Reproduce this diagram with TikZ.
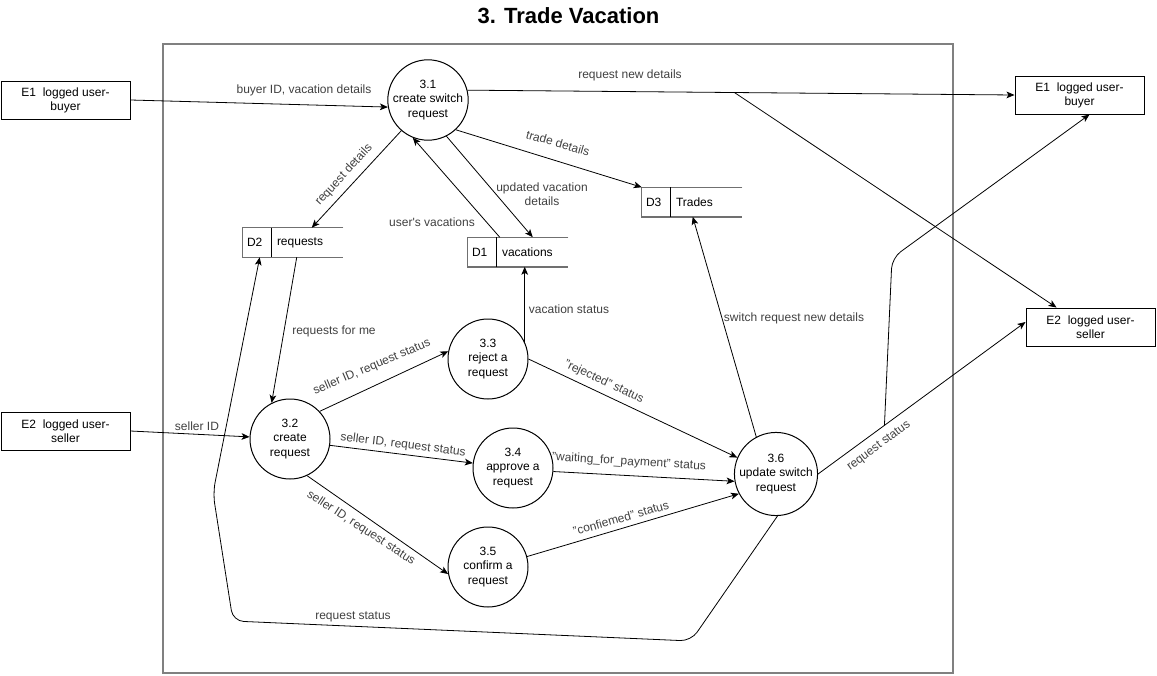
\documentclass[tikz,border=0pt]{standalone}
\usepackage{fontspec}
\setmainfont{Liberation Sans}
\usetikzlibrary{arrows.meta,calc}
\definecolor{framec}{HTML}{808080}
\definecolor{labelc}{HTML}{404040}
\definecolor{storec}{HTML}{707070}
\begin{document}
\begin{tikzpicture}[x=0.75pt,y=-0.75pt,
  proc/.style={circle,draw,line width=0.75pt,minimum size=60pt,inner sep=0pt,align=center,font=\fontsize{9}{10.8}\selectfont},
  ent/.style={rectangle,draw,line width=0.75pt,minimum width=96.75pt,minimum height=28.5pt,inner sep=0pt,align=center,font=\fontsize{9}{10.5}\selectfont},
  store/.style={rectangle,minimum width=75pt,minimum height=21.75pt,inner sep=0pt},
  storeline/.style={draw=storec,line width=1.1pt},
  storesep/.style={draw=black,line width=0.75pt},
  stext/.style={font=\fontsize{9}{10.5}\selectfont,inner sep=0pt,anchor=west},
  lbl/.style={font=\fontsize{9}{10.5}\selectfont,text=labelc,inner sep=1pt,align=center},
  flow/.style={draw,line width=0.6pt,-{Stealth[length=6pt,width=5pt,inset=1.5pt]}}
]
\path[use as bounding box] (0,0) rectangle (1157,675);
\node[font=\bfseries\fontsize{16.5}{20}\selectfont] (title) at (568.5,16) {3. Trade Vacation};
\draw[framec,line width=1.5pt] (163,44) rectangle (953,673);

% processes
\node[proc] (p31) at (428,100) {3.1\\create switch\\request};
\node[proc] (p32) at (290,439) {3.2\\create\\request};
\node[proc] (p33) at (488,359) {3.3\\reject a\\request};
\node[proc] (p34) at (513,468) {3.4\\approve a\\request};
\node[proc] (p35) at (488,567) {3.5\\confirm a\\request};
\node[proc] (p36) at (776,474) {3.6\\update switch\\request};

% entities
\node[ent] (E1L) at (65.5,100) {E1\ \ logged user-\\buyer};
\node[ent] (E2L) at (65.5,431) {E2\ \ logged user-\\seller};
\node[ent] (E1R) at (1079.5,95) {E1\ \ logged user-\\buyer};
\node[ent] (E2R) at (1090.5,327) {E2\ \ logged user-\\seller};

% data stores
\node[store] (D2) at (293,242.5) {};
\draw[storeline] (D2.north east) -- (D2.north west) -- (D2.south west) -- (D2.south east);
\draw[storesep] ($(D2.north west)+(29,0)$) -- ($(D2.south west)+(29,0)$);
\node[stext] (D2id) at ($(D2.west)+(4,0)$) {D2};
\node[stext] (D2nm) at ($(D2.west)+(34,0)$) {requests};

\node[store] (D1) at (518,252) {};
\draw[storeline] (D1.north east) -- (D1.north west) -- (D1.south west) -- (D1.south east);
\draw[storesep] ($(D1.north west)+(29,0)$) -- ($(D1.south west)+(29,0)$);
\node[stext] (D1id) at ($(D1.west)+(4,0)$) {D1};
\node[stext] (D1nm) at ($(D1.west)+(34,0)$) {vacations};

\node[store] (D3) at (692,202) {};
\draw[storeline] (D3.north east) -- (D3.north west) -- (D3.south west) -- (D3.south east);
\draw[storesep] ($(D3.north west)+(29,0)$) -- ($(D3.south west)+(29,0)$);
\node[stext] (D3id) at ($(D3.west)+(4,0)$) {D3};
\node[stext] (D3nm) at ($(D3.west)+(34,0)$) {Trades};

% flows
\draw[flow] (E1L.east) -- (p31.190);
\draw[flow] (p31.14) -- coordinate[pos=0.488] (br1) (E1R.west);
\draw[flow] (br1) -- ($(E2R.north west)+(31,0)$);
\draw[flow] (p31.229) -- ($(D2.north west)+(69,0)$);
\draw[flow] ($(D1.north west)+(32,0)$) -- (p31.248);
\draw[flow] (p31.297) -- ($(D1.north west)+(65,0)$);
\draw[flow] (p31.313) -- (D3.north west);
\draw[flow] ($(D2.south west)+(54,0)$) -- (p32.117);
\draw[flow] (E2L.east) -- (p32.177);
\draw[flow] (p32.43) -- (p33.169);
\draw[flow] (p32.351) -- (p34.173);
\draw[flow] (p32.295) -- (p35.190);
\draw[flow] (p33.25) -- (p33.25 |- D1.south);
\draw[flow] (p33.0) -- (p36.157);
\draw[flow] (p34.355) -- (p36.190);
\draw[flow] (p35.15) -- (p36.208);
\draw[flow] (p36.118) -- ($(D3.south west)+(51,0)$);
\draw[flow] (p36.east) -- coordinate[pos=0.32] (br2) ($(E2R.west)+(0,-5)$);
\draw[flow,rounded corners=8pt] (br2) -- (892,258) -- ($(E1R.south)+(10,0)$);
\draw[flow,rounded corners=8pt] (p36.272) -- (691,641) -- (233,621) -- (213,493) -- ($(D2.south west)+(17,0)$);

% labels
\node[lbl] (l1) at (304,90) {buyer ID, vacation details};
\node[lbl] (l2) at (630,75) {request new details};
\node[lbl,rotate=47.5] (l3) at (344,175) {request details};
\node[lbl] (l4) at (432,222) {user\textquotesingle s vacations};
\node[lbl] (l5) at (542,194) {updated vacation\\details};
\node[lbl,rotate=-16] (l6) at (558,143) {trade details};
\node[lbl] (l7) at (334,331) {requests for me};
\node[lbl] (l8) at (197,426) {seller ID};
\node[lbl,rotate=23] (l9) at (372,367) {seller ID, request status};
\node[lbl,rotate=-7] (l10) at (403,445) {seller ID, request status};
\node[lbl,rotate=-33] (l11) at (361,528) {seller ID, request status};
\node[lbl] (l12) at (569,309) {vacation status};
\node[lbl,rotate=-25] (l13) at (604,382) {"rejected" status};
\node[lbl,rotate=-3.5] (l14) at (629,462) {"waiting\_for\_payment" status};
\node[lbl,rotate=16] (l15) at (621,518) {"confiemed" status};
\node[lbl] (l16) at (794,318) {switch request new details};
\node[lbl,rotate=36.6] (l17) at (879,446) {request status};
\node[lbl] (l18) at (353,617) {request status};
\end{tikzpicture}
\end{document}
